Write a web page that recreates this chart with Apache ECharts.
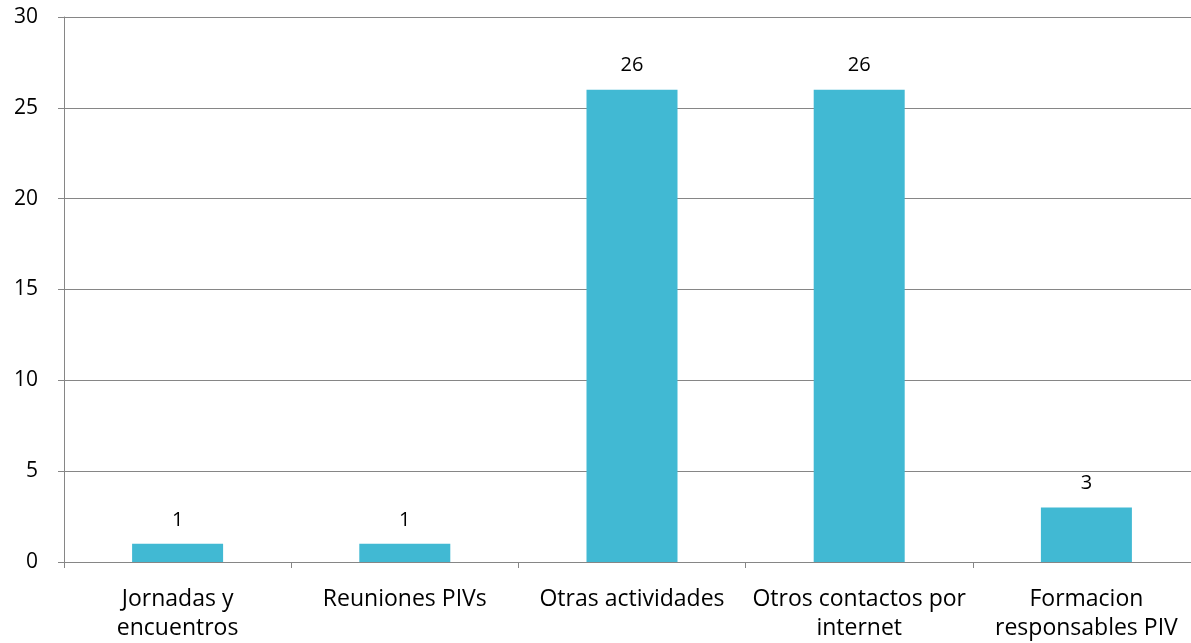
<!DOCTYPE html>
<html><head><meta charset="utf-8">
<script src="https://cdn.jsdelivr.net/npm/echarts@6/dist/echarts.min.js"></script>
<style>html,body{margin:0;padding:0;background:#fff;overflow:hidden}#c{width:1200px;height:643px}</style>
</head><body><div id="c"></div>
<script>
const categories = ["Jornadas y\nencuentros", "Reuniones PIVs", "Otras actividades", "Otros contactos por\ninternet", "Formacion\nresponsables PIV"];
const values = [1, 1, 26, 26, 3];
const yTicks = [0, 5, 10, 15, 20, 25, 30];

const chart = echarts.init(document.getElementById('c'));
const font = '"Open Sans", sans-serif';
chart.setOption({
  animation: false,
  grid: {left: 64, top: 17, right: 0, bottom: 80, containLabel: false},
  xAxis: {
    type: 'category', data: categories,
    axisLine: {lineStyle: {color: '#868686', width: 1}},
    axisTick: {show: true, length: 6, lineStyle: {color: '#868686'}},
    axisLabel: {interval: 0, color: '#000', fontSize: 23, fontFamily: font, margin: 23, lineHeight: 29}
  },
  yAxis: {
    type: 'value', min: yTicks[0], max: yTicks[yTicks.length - 1], interval: 5,
    axisLine: {show: true, lineStyle: {color: '#868686'}},
    axisTick: {show: true, length: 6, lineStyle: {color: '#868686'}},
    splitLine: {lineStyle: {color: '#868686', width: 1}},
    axisLabel: {color: '#000', fontSize: 21, fontFamily: font, margin: 26, align: 'right'}
  },
  series: [{
    type: 'bar', data: values, barWidth: 91,
    itemStyle: {color: '#41B9D3'},
    label: {show: true, position: 'top', distance: 14, color: '#000', fontSize: 20, fontFamily: font}
  }]
});
</script></body></html>
